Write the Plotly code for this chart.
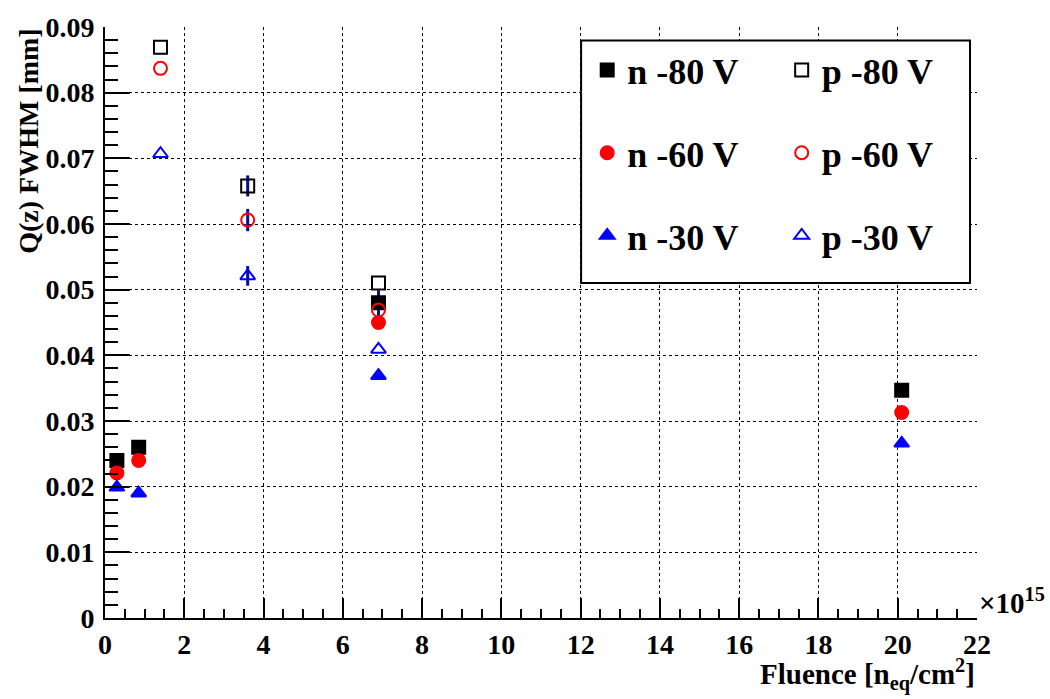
import plotly.graph_objects as go

# ---- data ----
x_n = [0.3, 0.85, 6.9, 20.1]
x_p = [1.4, 3.6, 6.9]

n80 = [0.0240, 0.0260, 0.0480, 0.0347]
n60 = [0.0221, 0.0240, 0.0450, 0.0313]
n30 = [0.0199, 0.0190, 0.0369, 0.0266]
p80 = [0.0869, 0.0658, 0.0510]
p60 = [0.0837, 0.0606, 0.0469]
p30 = [0.0707, 0.0521, 0.0409]

n80_err = [0.0, 0.0, 0.0019, 0.0]
n60_err = [0.0, 0.0, 0.0, 0.0]
n30_err = [0.0, 0.0, 0.0, 0.0]
p80_err = [0.0, 0.0016, 0.0]
p60_err = [0.0, 0.0017, 0.0]
p30_err = [0.0, 0.0015, 0.0]

x_ticks = list(range(0, 23, 2))
y_ticks = [0, 0.01, 0.02, 0.03, 0.04, 0.05, 0.06, 0.07, 0.08, 0.09]

FONT = "Liberation Serif"
ERRC = "#0a0a9a"

series = [
    ("n -80 V", x_n, n80, n80_err, "square", "black", "legend"),
    ("n -60 V", x_n, n60, n60_err, "circle", "red", "legend"),
    ("n -30 V", x_n, n30, n30_err, "triangle-up", "blue", "legend"),
    ("p -80 V", x_p, p80, p80_err, "square-open", "black", "legend2"),
    ("p -60 V", x_p, p60, p60_err, "circle-open", "red", "legend2"),
    ("p -30 V", x_p, p30, p30_err, "triangle-up-open", "blue", "legend2"),
]

fig = go.Figure()
for name, xs, ys, es, sym, col, leg in series:
    fig.add_trace(go.Scatter(
        x=xs, y=ys, mode="markers", name=name, legend=leg, legendgroup=name,
        marker=dict(symbol=sym, size=13, color=col, line=dict(width=2, color=col)),
        error_y=dict(type="data", array=es, visible=True, color=ERRC, thickness=3, width=0),
    ))

axis_common = dict(
    showline=True, linecolor="black", linewidth=2, mirror=False,
    ticks="inside", tickcolor="black", tickwidth=2,
    showgrid=True, gridcolor="black", griddash="dot", gridwidth=1,
    zeroline=False,
    tickfont=dict(family=FONT, size=28, color="black", weight="bold"),
)

legend_font = dict(family=FONT, size=36, color="black", weight="bold")

fig.update_layout(
    width=1050, height=699,
    margin=dict(l=105, r=73, t=17, b=81),
    paper_bgcolor="white", plot_bgcolor="white",
    xaxis=dict(range=[0, 22], tickvals=x_ticks, ticklen=20,
               minor=dict(dtick=0.5, ticklen=9, ticks="inside", tickcolor="black", tickwidth=2, showgrid=False),
               **axis_common),
    yaxis=dict(range=[0, 0.09], tickvals=y_ticks, ticklen=25, ticklabelstandoff=3,
               minor=dict(dtick=0.002, ticklen=13, ticks="inside", tickcolor="black", tickwidth=2, showgrid=False),
               **axis_common),
    legend=dict(x=0.553, y=0.978, xanchor="left", yanchor="top", bgcolor="rgba(0,0,0,0)",
                borderwidth=0, tracegroupgap=33, font=legend_font),
    legend2=dict(x=0.776, y=0.978, xanchor="left", yanchor="top", bgcolor="rgba(0,0,0,0)",
                 borderwidth=0, tracegroupgap=33, font=legend_font),
    shapes=[dict(type="rect", xref="paper", yref="paper", x0=0.546, x1=0.992, y0=0.567, y1=0.977,
                 line=dict(color="black", width=2), fillcolor="white", layer="above")],
    annotations=[
        dict(text="Q(z) FWHM [mm]", textangle=-90, xref="paper", yref="paper",
             x=-0.088, y=1.0, xanchor="center", yanchor="top", showarrow=False,
             font=dict(family=FONT, size=28, color="black", weight="bold")),
        dict(text="Fluence [n<sub>eq</sub>/cm<sup>2</sup>]", xref="paper", yref="paper",
             x=1.0, y=-0.058, xanchor="right", yanchor="top", showarrow=False,
             font=dict(family=FONT, size=29, color="black", weight="bold")),
        dict(text="×10<sup>15</sup>", xref="paper", yref="paper",
             x=1.0, y=-0.005, xanchor="left", yanchor="bottom", showarrow=False,
             font=dict(family=FONT, size=29, color="black", weight="bold")),
    ],
)

fig.write_html("out.html")
